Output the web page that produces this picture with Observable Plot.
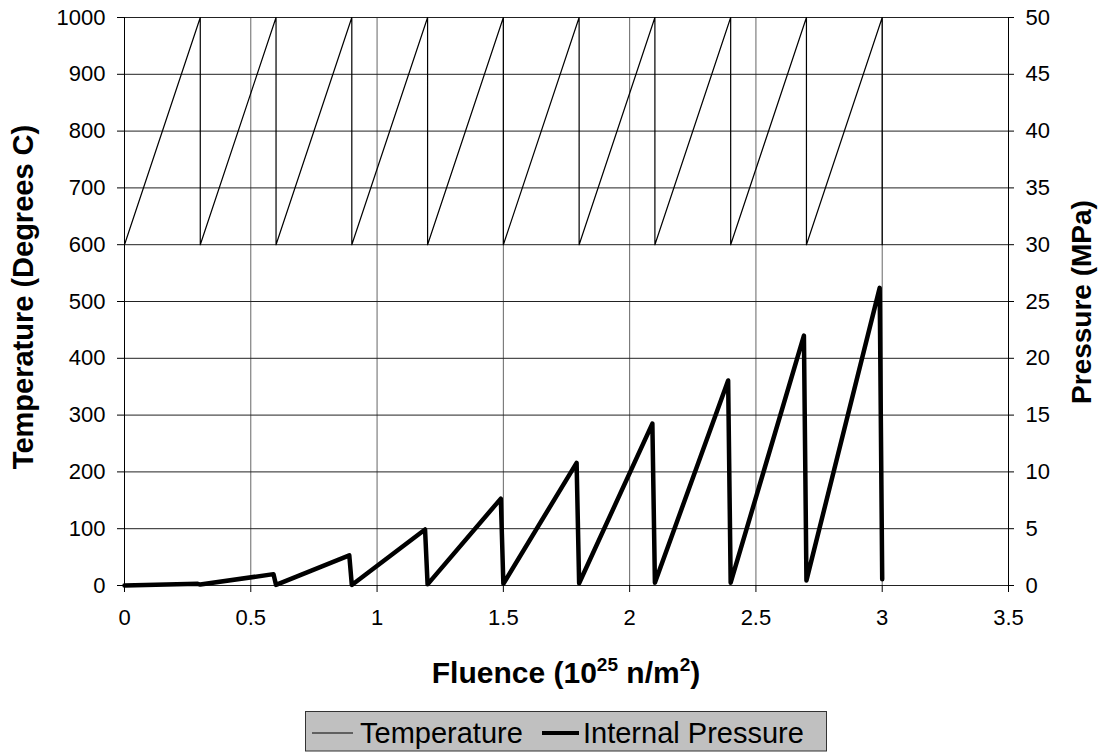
<!DOCTYPE html>
<html><head><meta charset="utf-8">
<script src="https://cdn.jsdelivr.net/npm/d3@7"></script>
<script src="https://cdn.jsdelivr.net/npm/@observablehq/plot@0.6"></script>
<style>
body{margin:0;background:#fff;font-family:"Liberation Sans",Arial,sans-serif;}
#wrap{position:relative;width:1099px;height:752px;overflow:hidden;background:#fff;}
#legend{position:absolute;left:305px;top:711px;line-height:0;}
</style></head><body><div id="wrap"><div id="chart"></div><div id="legend"></div></div>
<script>
// Temperature series (Degrees C) vs fluence (10^25 n/m^2)
const tempFluence = [0,0.3,0.3,0.6,0.6,0.9,0.9,1.2,1.2,1.5,1.5,1.8,1.8,2.1,2.1,2.4,2.4,2.7,2.7,3.0,3.0];
const temperature = [600,1000,600,1000,600,1000,600,1000,600,1000,600,1000,600,1000,600,1000,600,1000,600,1000,600];
// Internal pressure series (MPa)
const pressFluence = [0,0.29,0.30,0.59,0.60,0.89,0.90,1.19,1.20,1.49,1.50,1.79,1.80,2.09,2.10,2.39,2.40,2.69,2.70,2.99,3.00];
const pressure = [0,0.15,0.08,1.0,0.05,2.65,0.05,4.93,0.1,7.65,0.15,10.8,0.2,14.25,0.25,18.05,0.25,22.0,0.45,26.2,0.55];
// Axes
const xTicks = [0,0.5,1,1.5,2,2.5,3,3.5];
const xTickLabels = ["0","0.5","1","1.5","2","2.5","3","3.5"];
const tempTicks = [0,100,200,300,400,500,600,700,800,900,1000];
const pressTicks = [0,5,10,15,20,25,30,35,40,45,50];
const tempMax = 1000, pressMax = 50;
const toTemp = p => p * tempMax / pressMax;

const tempData = tempFluence.map((f,i)=>({f, t: temperature[i]}));
const pressData = pressFluence.map((f,i)=>({f, p: pressure[i]}));

const font = "'Liberation Sans', Arial, sans-serif";
const chart = Plot.plot({
  width: 1099, height: 705,
  marginLeft: 124, marginRight: 91, marginTop: 17, marginBottom: 120,
  x: {domain: [0, 3.5]},
  y: {domain: [0, tempMax]},
  style: {fontFamily: font, fontSize: "22px", color: "#000", background: "#fff", overflow: "visible"},
  marks: [
    Plot.gridX(xTicks, {stroke: "#666", strokeOpacity: 1, strokeWidth: 1}),
    Plot.gridY(tempTicks, {stroke: "#222", strokeOpacity: 1, strokeWidth: 1}),
    Plot.ruleX([0, 3.5], {stroke: "#000", strokeWidth: 1}),
    Plot.axisX(xTicks, {tickSize: 7, tickPadding: 17, label: null, tickFormat: (d,i) => xTickLabels[i]}),
    Plot.axisY(tempTicks, {anchor: "left", tickSize: 7, tickPadding: 12, label: null, tickFormat: d => String(d)}),
    Plot.axisY(pressTicks.map(toTemp), {anchor: "right", tickSize: 5, tickPadding: 12, label: null, tickFormat: (d,i) => String(pressTicks[i])}),
    Plot.line(tempData, {x: "f", y: "t", stroke: "#000", strokeWidth: 1.2}),
    Plot.line(pressData, {x: "f", y: d => toTemp(d.p), stroke: "#000", strokeWidth: 4.5, strokeLinejoin: "round", strokeLinecap: "round"})
  ]
});
document.getElementById("chart").appendChild(chart);

const svg = d3.select(chart);
// x title
const xt = svg.append("text").attr("x", 566).attr("y", 683).attr("text-anchor", "middle")
  .attr("font-family", font).attr("font-weight", "bold").attr("font-size", 30).attr("fill", "#000");
xt.append("tspan").text("Fluence (10");
xt.append("tspan").attr("dy", -12).attr("font-size", 19).text("25");
xt.append("tspan").attr("dy", 12).text(" n/m");
xt.append("tspan").attr("dy", -12).attr("font-size", 19).text("2");
xt.append("tspan").attr("dy", 12).text(")");
// left title
svg.append("text").attr("transform", "translate(33,297) rotate(-90)").attr("text-anchor", "middle")
  .attr("font-family", font).attr("font-weight", "bold").attr("font-size", 29).attr("fill", "#000")
  .text("Temperature (Degrees C)");
// right title
svg.append("text").attr("transform", "translate(1091,302) rotate(-90)").attr("text-anchor", "middle")
  .attr("font-family", font).attr("font-weight", "bold").attr("font-size", 28).attr("fill", "#000")
  .text("Pressure (MPa)");

// legend
const lg = d3.select("#legend").append("svg").attr("width", 523).attr("height", 41);
lg.append("rect").attr("x", 0.5).attr("y", 0.5).attr("width", 521).attr("height", 39.5)
  .attr("fill", "#c0c0c0").attr("stroke", "#333");
lg.append("line").attr("x1", 7).attr("x2", 48).attr("y1", 22).attr("y2", 22).attr("stroke", "#000").attr("stroke-width", 1);
lg.append("text").attr("x", 55).attr("y", 32).attr("font-family", font).attr("font-size", 29).attr("fill", "#000").text("Temperature");
lg.append("line").attr("x1", 237).attr("x2", 274).attr("y1", 22).attr("y2", 22).attr("stroke", "#000").attr("stroke-width", 4);
lg.append("text").attr("x", 278).attr("y", 32).attr("font-family", font).attr("font-size", 29).attr("fill", "#000").text("Internal Pressure");
</script>
</body></html>
